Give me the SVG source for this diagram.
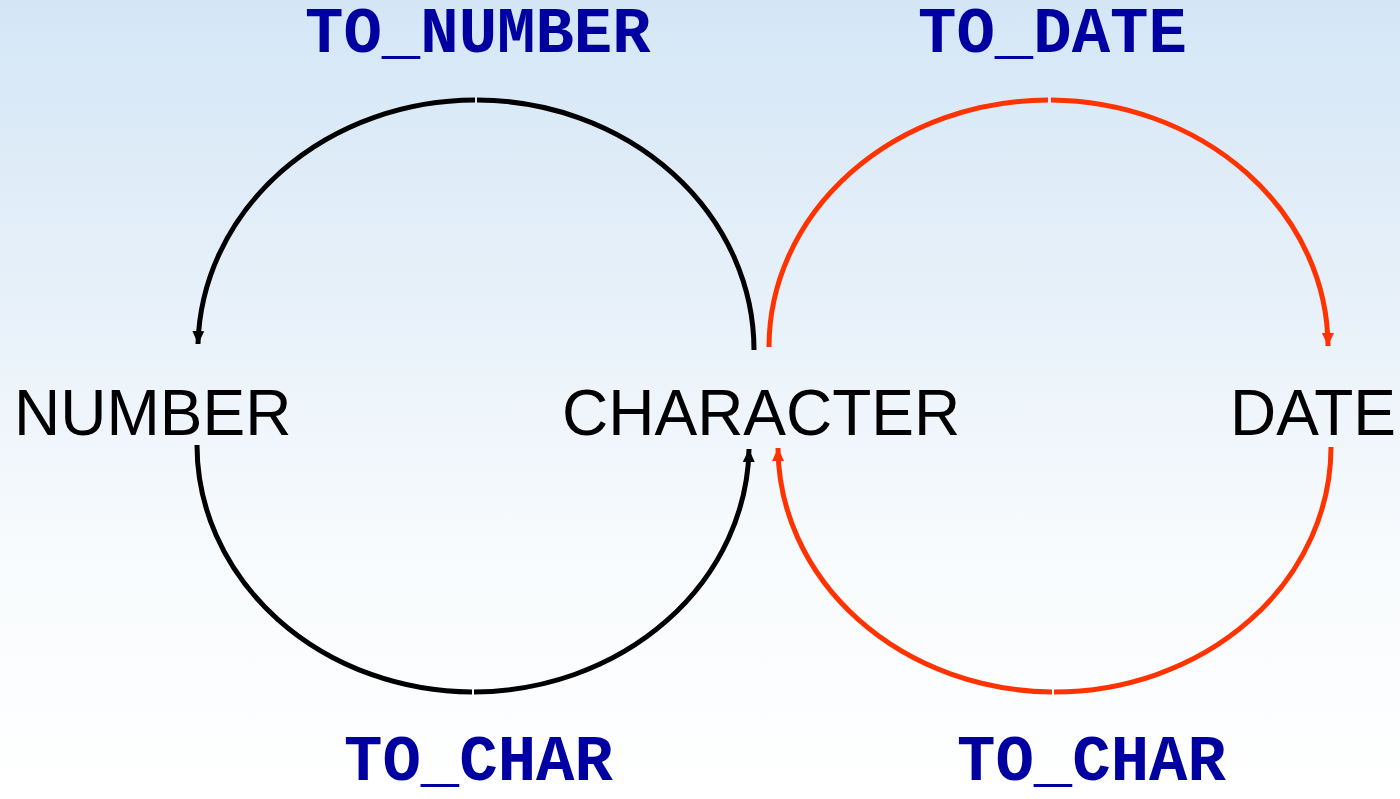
<svg xmlns="http://www.w3.org/2000/svg" width="1400" height="799" viewBox="0 0 1400 799">
<defs>
<linearGradient id="sky" x1="0" y1="0" x2="0" y2="1">
<stop offset="0" stop-color="#d4e6f6"/>
<stop offset="0.35" stop-color="#e6f0f9"/>
<stop offset="0.7" stop-color="#f8fbfd"/>
<stop offset="1" stop-color="#ffffff"/>
</linearGradient>
<marker id="ab" markerUnits="userSpaceOnUse" markerWidth="16" markerHeight="14" refX="13" refY="6" orient="auto">
<path d="M0,0 L13,6 L0,12 z" fill="#000"/>
</marker>
<marker id="ar" markerUnits="userSpaceOnUse" markerWidth="16" markerHeight="14" refX="13" refY="6" orient="auto">
<path d="M0,0 L13,6 L0,12 z" fill="#ff3300"/>
</marker>
</defs>
<style>
.fn{font-family:"Liberation Mono","Courier New",monospace;font-weight:bold;font-size:64px;fill:#0000a0}
.nd{font-family:"Liberation Sans",Arial,sans-serif;font-size:64px;fill:#000}
.blk{fill:none;stroke:#000;stroke-width:5}
.red{fill:none;stroke:#ff3300;stroke-width:5}
</style>
<rect width="1400" height="799" fill="url(#sky)"/>
<g id="connectors">
<path class="blk" d="M754,350 A278,250 0 0 0 477,100"/>
<path class="blk" d="M475,100 A278,250 0 0 0 198,344" marker-end="url(#ab)"/>
<path class="blk" d="M197,445 A277,247 0 0 0 472,692"/>
<path class="blk" d="M474,692 A277,247 0 0 0 749,449" marker-end="url(#ab)"/>
<path class="red" d="M769,347 A280,247 0 0 1 1048,100"/>
<path class="red" d="M1051,100 A280,247 0 0 1 1328,346" marker-end="url(#ar)"/>
<path class="red" d="M1331,447 A277,245 0 0 1 1054,692"/>
<path class="red" d="M1052,692 A277,245 0 0 1 778,448" marker-end="url(#ar)"/>
</g>
<g id="label-to-number"><text class="fn" x="305" y="52">TO_NUMBER</text></g>
<g id="label-to-date"><text class="fn" x="918" y="52">TO_DATE</text></g>
<g id="label-to-char-1"><text class="fn" x="344" y="780">TO_CHAR</text></g>
<g id="label-to-char-2"><text class="fn" x="957" y="780">TO_CHAR</text></g>
<g id="node-number"><text class="nd" x="14" y="435">NUMBER</text></g>
<g id="node-character"><text class="nd" x="562" y="435">CHARACTER</text></g>
<g id="node-date"><text class="nd" x="1230" y="435">DATE</text></g>
</svg>
